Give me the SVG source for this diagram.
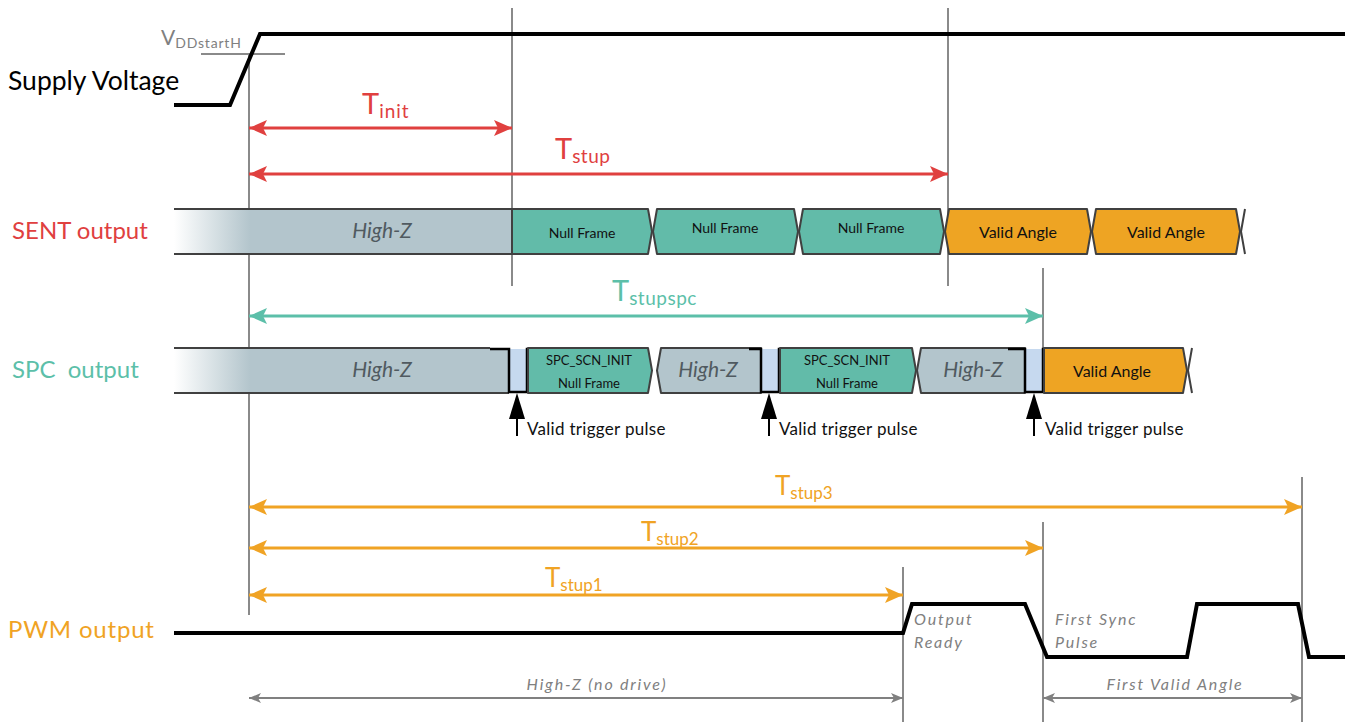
<svg xmlns="http://www.w3.org/2000/svg" width="1352" height="724" viewBox="0 0 1352 724">
<defs>
<linearGradient id="fade" x1="174" y1="0" x2="250" y2="0" gradientUnits="userSpaceOnUse">
<stop offset="0" stop-color="#ffffff"/><stop offset="1" stop-color="#b3c5cc"/>
</linearGradient>
<marker id="rA" viewBox="0 0 18 16" refX="18" refY="8" markerWidth="18" markerHeight="16" markerUnits="userSpaceOnUse" orient="auto-start-reverse"><path d="M0,0 L18,8 L0,16 L4,8 Z" fill="#e0403f"/></marker>
<marker id="tA" viewBox="0 0 18 16" refX="18" refY="8" markerWidth="18" markerHeight="16" markerUnits="userSpaceOnUse" orient="auto-start-reverse"><path d="M0,0 L18,8 L0,16 L4,8 Z" fill="#5cbfa9"/></marker>
<marker id="oA" viewBox="0 0 18 16" refX="18" refY="8" markerWidth="18" markerHeight="16" markerUnits="userSpaceOnUse" orient="auto-start-reverse"><path d="M0,0 L18,8 L0,16 L4,8 Z" fill="#f0a324"/></marker>
<marker id="gA" viewBox="0 0 12 10" refX="12" refY="5" markerWidth="12" markerHeight="10" markerUnits="userSpaceOnUse" orient="auto-start-reverse"><path d="M0,0 L12,5 L0,10 L3,5 Z" fill="#808080"/></marker>
</defs>
<style>
text{font-family:Lato,"Open Sans","Liberation Sans",sans-serif}
.lbl{font-size:24px}
.vl{stroke:#8a8a8a;stroke-width:2;fill:none}
.sig{stroke:#000;stroke-width:4;fill:none;stroke-linejoin:miter}
.seg{stroke:#404040;stroke-width:2;stroke-linejoin:round}
.teal{fill:#62bba9}
.orng{fill:#eea423}
.hz{fill:#b3c5cc}
.hzt{font-size:21px;font-style:italic;fill:#505a60;text-anchor:middle}
.box{font-size:14px;fill:#111;text-anchor:middle}
.va{font-size:16px;fill:#111;text-anchor:middle}
.trig{font-size:17px;fill:#111;letter-spacing:0.3px}
.gi{font-size:16px;font-style:italic;fill:#808080;letter-spacing:1.8px}
.red{stroke:#e0403f;stroke-width:3}
.tl{stroke:#5cbfa9;stroke-width:3}
.or{stroke:#f0a324;stroke-width:3}
.ga{stroke:#808080;stroke-width:2}
</style>

<g id="labels">
<text x="8" y="90" font-size="26.5" fill="#000">Supply Voltage</text>
<text x="12" y="239" class="lbl" fill="#e0403f">SENT output</text>
<text x="12" y="378" class="lbl" fill="#5cbfa9" xml:space="preserve">SPC  output</text>
<text x="8" y="638" class="lbl" fill="#f0a324" letter-spacing="0.8">PWM output</text>
</g>

<g id="guides">
<line class="vl" x1="249" y1="54" x2="249" y2="615"/>
<line class="vl" x1="512" y1="8" x2="512" y2="286"/>
<line class="vl" x1="948" y1="8" x2="948" y2="286"/>
<line class="vl" x1="1043" y1="268" x2="1043" y2="348"/>
<line class="vl" x1="1043" y1="522" x2="1043" y2="722"/>
<line class="vl" x1="903" y1="567" x2="903" y2="722"/>
<line class="vl" x1="1302" y1="477" x2="1302" y2="722"/>
<line class="vl" x1="201" y1="54" x2="285" y2="54"/>
</g>

<g id="supply">
<path class="sig" d="M174,105 L230,105 L260,34 L1345,34"/>
<text x="161" y="45" font-size="21" fill="#808080">V<tspan font-size="14" dy="3" letter-spacing="0.8">DDstartH</tspan></text>
</g>

<g id="sent">
<rect x="174" y="209" width="338" height="45" fill="url(#fade)"/>
<line x1="174" y1="209" x2="512" y2="209" stroke="#404040" stroke-width="2"/>
<line x1="174" y1="254" x2="512" y2="254" stroke="#404040" stroke-width="2"/>
<text x="382" y="238" class="hzt">High-Z</text>
<polygon class="seg teal" points="512,209 648,209 652,231.5 648,254 512,254"/>
<polygon class="seg teal" points="657,209 794,209 798,231.5 794,254 657,254 653,231.5"/>
<polygon class="seg teal" points="803,209 940,209 944,231.5 940,254 803,254 799,231.5"/>
<polygon class="seg orng" points="949,209 1087,209 1091,231.5 1087,254 949,254 945,231.5"/>
<polygon class="seg orng" points="1096,209 1236,209 1240,231.5 1236,254 1096,254 1092,231.5"/>
<polyline class="seg" fill="none" points="1245,209 1241,231.5 1245,254"/>
<text x="582" y="238" class="box">Null Frame</text>
<text x="725" y="233" class="box">Null Frame</text>
<text x="871" y="233" class="box">Null Frame</text>
<text x="1018" y="238" class="va">Valid Angle</text>
<text x="1166" y="238" class="va">Valid Angle</text>
</g>

<g id="spc">
<rect x="174" y="348" width="335" height="45" fill="url(#fade)"/>
<line x1="174" y1="348" x2="490" y2="348" stroke="#404040" stroke-width="2"/>
<line x1="174" y1="393" x2="509" y2="393" stroke="#404040" stroke-width="2"/>
<text x="382" y="377" class="hzt">High-Z</text>
<rect x="510" y="349" width="16" height="43" fill="#c6d9ef"/>
<path d="M490,349 L509,349 L509,392 L527,392 L527,349 L545,349" stroke="#000" stroke-width="2.5" fill="none"/>
<polygon class="seg teal" points="528,348 648,348 652,370.5 648,393 528,393"/>
<polygon class="seg hz" points="661,348 761,348 761,393 661,393 657,370.5"/>
<text x="708" y="377" class="hzt">High-Z</text>
<rect x="762" y="349" width="16" height="43" fill="#c6d9ef"/>
<path d="M749,349 L761,349 L761,392 L779,392 L779,349 L792,349" stroke="#000" stroke-width="2.5" fill="none"/>
<polygon class="seg teal" points="780,348 912,348 916,370.5 912,393 780,393"/>
<polygon class="seg hz" points="921,348 1025,348 1025,393 921,393 917,370.5"/>
<text x="973" y="377" class="hzt">High-Z</text>
<rect x="1026" y="349" width="16" height="43" fill="#c6d9ef"/>
<path d="M1008,349 L1025,349 L1025,392 L1043,392 L1043,349 L1060,349" stroke="#000" stroke-width="2.5" fill="none"/>
<polygon class="seg orng" points="1044,348 1183,348 1187,370.5 1183,393 1044,393"/>
<polyline class="seg" fill="none" points="1192,348 1188,370.5 1192,393"/>
<text x="589" y="365" font-size="13" fill="#111" text-anchor="middle">SPC_SCN_INIT</text>
<text x="589" y="388" font-size="13" fill="#111" text-anchor="middle">Null Frame</text>
<text x="847" y="365" font-size="13" fill="#111" text-anchor="middle">SPC_SCN_INIT</text>
<text x="847" y="388" font-size="13" fill="#111" text-anchor="middle">Null Frame</text>
<text x="1112" y="377" class="va">Valid Angle</text>
</g>

<g id="triggers">
<line x1="517" y1="415" x2="517" y2="436" stroke="#000" stroke-width="2"/>
<polygon points="517,393 509,419 525,419" fill="#000"/>
<text x="527" y="435" class="trig">Valid trigger pulse</text>
<line x1="769" y1="415" x2="769" y2="436" stroke="#000" stroke-width="2"/>
<polygon points="769,393 761,419 777,419" fill="#000"/>
<text x="779" y="435" class="trig">Valid trigger pulse</text>
<line x1="1034" y1="415" x2="1034" y2="436" stroke="#000" stroke-width="2"/>
<polygon points="1034,393 1026,419 1042,419" fill="#000"/>
<text x="1045" y="435" class="trig">Valid trigger pulse</text>
</g>

<g id="pwm">
<path class="sig" d="M174,633 L903,633 L912,604 L1025,604 L1047,657 L1187,657 L1197,604 L1298,604 L1309,657 L1345,657"/>
<text x="914" y="625" class="gi">Output</text>
<text x="914" y="648" class="gi">Ready</text>
<text x="1055" y="625" class="gi">First Sync</text>
<text x="1055" y="648" class="gi">Pulse</text>
</g>

<g id="connectors">
<line class="red" x1="249" y1="128" x2="512" y2="128" marker-start="url(#rA)" marker-end="url(#rA)"/>
<line class="red" x1="249" y1="174" x2="948" y2="174" marker-start="url(#rA)" marker-end="url(#rA)"/>
<line class="tl" x1="249" y1="316" x2="1043" y2="316" marker-start="url(#tA)" marker-end="url(#tA)"/>
<line class="or" x1="249" y1="507" x2="1302" y2="507" marker-start="url(#oA)" marker-end="url(#oA)"/>
<line class="or" x1="249" y1="548" x2="1043" y2="548" marker-start="url(#oA)" marker-end="url(#oA)"/>
<line class="or" x1="249" y1="595" x2="903" y2="595" marker-start="url(#oA)" marker-end="url(#oA)"/>
<line class="ga" x1="249" y1="698" x2="903" y2="698" marker-start="url(#gA)" marker-end="url(#gA)"/>
<line class="ga" x1="1043" y1="698" x2="1302" y2="698" marker-start="url(#gA)" marker-end="url(#gA)"/>
</g>

<g id="connector-labels">
<text x="362" y="114" font-size="29" fill="#e0403f">T<tspan font-size="19" dy="4" letter-spacing="1">init</tspan></text>
<text x="555" y="159" font-size="29" fill="#e0403f">T<tspan font-size="19" dy="4" letter-spacing="0.5">stup</tspan></text>
<text x="612" y="301" font-size="29" fill="#5cbfa9">T<tspan font-size="19" dy="4" letter-spacing="0.5">stupspc</tspan></text>
<text x="775" y="495" font-size="26" fill="#f0a324">T<tspan font-size="17" dy="4">stup3</tspan></text>
<text x="641" y="541" font-size="26" fill="#f0a324">T<tspan font-size="17" dy="4">stup2</tspan></text>
<text x="545" y="587" font-size="26" fill="#f0a324">T<tspan font-size="17" dy="4">stup1</tspan></text>
<text x="597" y="690" class="gi" text-anchor="middle">High-Z (no drive)</text>
<text x="1175" y="690" class="gi" text-anchor="middle">First Valid Angle</text>
</g>
</svg>
